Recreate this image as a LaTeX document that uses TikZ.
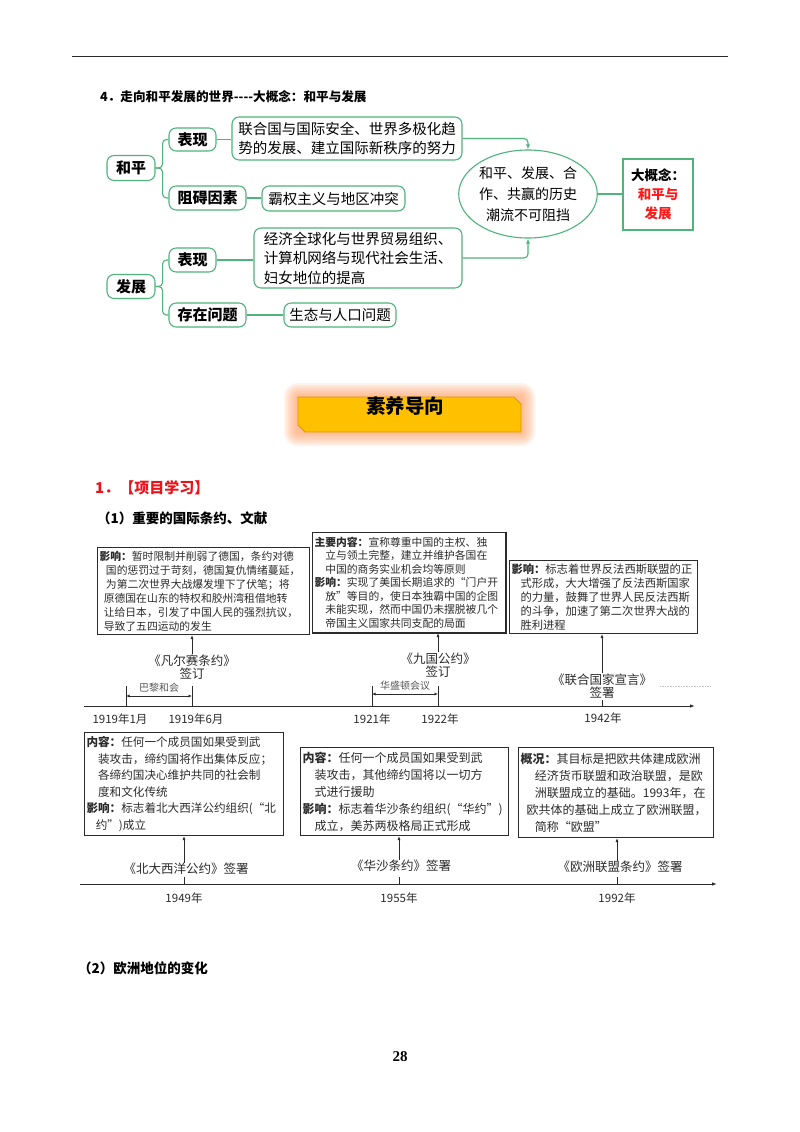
\documentclass[tikz,border=0pt]{standalone}
\usepackage{fontspec}
\setmainfont{Noto Sans CJK SC}
\newfontfamily\numfont{Liberation Serif}
\usetikzlibrary{arrows.meta,positioning,calc,shapes.geometric}
\definecolor{leafgreen}{HTML}{4FB37C}
\definecolor{concept}{HTML}{FF1A1A}
\definecolor{heading}{HTML}{E8141B}
\definecolor{gold}{HTML}{FFC000}
\definecolor{goldedge}{HTML}{D99A06}
\definecolor{glow}{HTML}{FF9A5A}
\definecolor{inkgrey}{HTML}{2B2B2B}
\newcommand{\lineind}{\hspace*{1em}}
\newcommand{\sizeto}[2]{\fontsize{#1}{#2}\selectfont}

\begin{document}
\begin{tikzpicture}[
  x=1pt,y=-1pt,
  every node/.style={inner sep=0pt,align=center},
  mapbox/.style={draw=leafgreen,line width=1.1pt,rounded corners=2.5mm,fill=white,font=\sizeto{15}{20}\bfseries,minimum height=24pt},
  leafbox/.style={draw=leafgreen,line width=1.1pt,rounded corners=2.5mm,fill=white,font=\sizeto{14.5}{19.5},align=left},
  branch/.style={draw=leafgreen,line width=1.1pt,rounded corners=4pt},
  toidea/.style={branch,-{Latex[length=5pt,width=4pt]}},
  tlbox/.style={draw=inkgrey,line width=1pt,align=left,inner xsep=2pt,anchor=north west,text=inkgrey},
  axisline/.style={draw=inkgrey,line width=0.9pt,-{Latex[length=5pt,width=3.5pt]}},
  tick/.style={draw=inkgrey,line width=0.8pt},
  up/.style={draw=inkgrey,line width=0.8pt,-{Latex[length=4pt,width=3pt]}},
  span/.style={draw=inkgrey,line width=0.7pt,{Latex[length=3.5pt,width=3pt]}-{Latex[length=3.5pt,width=3pt]}},
  spanlbl/.style={font=\sizeto{10}{11},text=inkgrey!80},
  evt/.style={font=\sizeto{12.5}{13.5},text=inkgrey},
  yr/.style={font=\sizeto{11.5}{13},text=inkgrey}
]
\useasboundingbox[fill=white] (0,0) rectangle (800,1132);
\draw[inkgrey,line width=0.9pt] (72,56) -- (728,56);
\node[anchor=west,font=\sizeto{12.6}{15}\bfseries] (title) at (100,97) {4．走向和平发展的世界-{}-{}-{}-大概念：和平与发展};

\node[mapbox,minimum width=48pt,minimum height=25pt] (heping) at (131,168) {和平};
\node[mapbox,minimum width=47pt,minimum height=23pt] (hpshow) at (192.5,139.5) {表现};
\node[mapbox,minimum width=77pt] (hpblock) at (207.5,198) {阻碍因素};
\node[leafbox,minimum width=230pt,minimum height=43pt] (hpfact) at (347,138.5) {联合国与国际安全、世界多极化趋\\势的发展、建立国际新秩序的努力};
\node[leafbox,minimum width=143pt,minimum height=25pt] (hpconf) at (333.5,198.5) {霸权主义与地区冲突};
\node[mapbox,minimum width=48pt,minimum height=24pt] (fazhan) at (131,286.5) {发展};
\node[mapbox,minimum width=47pt,minimum height=24pt] (fzshow) at (192.5,260) {表现};
\node[mapbox,minimum width=77pt] (fzprob) at (207.5,315) {存在问题};
\node[leafbox,minimum width=208pt,minimum height=60pt] (fzfact) at (358,258) {经济全球化与世界贸易组织、\\计算机网络与现代社会生活、\\妇女地位的提高};
\node[leafbox,minimum width=112pt,minimum height=24pt] (fzeco) at (340,315) {生态与人口问题};
\node[ellipse,draw=leafgreen,line width=1.1pt,minimum width=136pt,minimum height=88pt,font=\sizeto{14}{21}] (trend) at (528,194) {和平、发展、合\\作、共赢的历史\\潮流不可阻挡};
\node[draw=leafgreen,line width=1.1pt,minimum width=70pt,minimum height=71pt,font=\sizeto{13.5}{19}\bfseries] (idea) at (658,194.5) {大概念：\\\textcolor{concept}{和平与}\\\textcolor{concept}{发展}};

\draw[branch] (heping.east) -- ++(7,0) |- (hpshow.west);
\draw[branch] (heping.east) -- ++(7,0) |- (hpblock.west);
\draw[branch] (fazhan.east) -- ++(7,0) |- (fzshow.west);
\draw[branch] (fazhan.east) -- ++(7,0) |- (fzprob.west);
\draw[branch] (hpshow.east) -- (hpshow.east -| hpfact.west);
\draw[branch] (hpblock.east) -- (hpblock.east -| hpconf.west);
\draw[branch] (fzshow.east) -- (fzshow.east -| fzfact.west);
\draw[branch] (fzprob.east) -- (fzprob.east -| fzeco.west);
\draw[toidea] (hpfact.east) -| (trend.north);
\draw[toidea] (fzfact.east) -| (trend.south);
\draw[branch] (trend.east) -- (trend.east -| idea.west);

\foreach \g in {14,12,...,2}
  \fill[glow,opacity=0.12,rounded corners=\g pt] (298-\g,397-\g) rectangle (521+\g,432+\g);
\draw[goldedge,fill=gold,line width=0.8pt] (298,397) -- (514,397) -- (521,404) -- (521,432) -- (305,432) -- (298,425) -- cycle;
\node[font=\sizeto{19.5}{20}\bfseries] (guide) at (405,406) {素养导向};

\node[anchor=west,font=\sizeto{15}{17}\bfseries,text=heading] (proj) at (95,488) {1．【项目学习】};
\node[anchor=west,font=\sizeto{13.5}{15}\bfseries] (sec1) at (97,518) {（1）重要的国际条约、文献};

\node[tlbox,text width=208pt,minimum height=87pt,font=\sizeto{10.8}{14}] (vers) at (97,547) {\textbf{影响：}暂时限制并削弱了德国，条约对德\\\hspace*{0.6em}国的惩罚过于苛刻，德国复仇情绪蔓延，\\\hspace*{0.6em}为第二次世界大战爆发埋下了伏笔；将\\\hspace*{0.4em}原德国在山东的特权和胶州湾租借地转\\\hspace*{0.4em}让给日本，引发了中国人民的强烈抗议，\\\hspace*{0.4em}导致了五四运动的发生};
\node[tlbox,text width=189pt,minimum height=100pt,font=\sizeto{10.8}{13.5}] (nine) at (312,532) {\textbf{主要内容：}宣称尊重中国的主权、独\\\lineind 立与领土完整，建立并维护各国在\\\lineind 中国的商务实业机会均等原则\\\textbf{影响：}实现了美国长期追求的“门户开\\\lineind 放”等目的，使日本独霸中国的企图\\\lineind 未能实现，然而中国仍未摆脱被几个\\\lineind 帝国主义国家共同支配的局面};
\draw[inkgrey,line width=1.6pt] (nine.north east) -- (nine.south east) -- (nine.south west);
\node[tlbox,text width=184pt,minimum height=73pt,font=\sizeto{11.3}{14}] (unite) at (509,560) {\textbf{影响：}标志着世界反法西斯联盟的正\\\hspace*{0.8em}式形成，大大增强了反法西斯国家\\\hspace*{0.8em}的力量，鼓舞了世界人民反法西斯\\\hspace*{0.8em}的斗争，加速了第二次世界大战的\\\hspace*{0.8em}胜利进程};

\coordinate (axAa) at (84,706);
\coordinate (axAb) at (695,706);
\coordinate (tJan) at (126,706);
\coordinate (tJun) at (192,706);
\coordinate (tWa) at (372,706);
\coordinate (tWb) at (438,706);
\coordinate (tUn) at (602,706);
\draw[axisline] (axAa) -- (axAb);
\foreach \t in {tJan,tJun,tWa,tWb} \draw[tick] (\t) -- ++(0,-20);
\draw[tick] (tUn) -- ++(0,-6);
\draw[span] ($(tJan)+(0,-10)$) -- ($(tJun)+(0,-10)$);
\draw[span] ($(tWa)+(0,-12)$) -- ($(tWb)+(0,-12)$);
\node[spanlbl] (paris) at ($(tJan)!0.5!(tJun)+(0,-18)$) {巴黎和会};
\node[spanlbl] (wash) at ($(tWa)!0.5!(tWb)+(0,-20)$) {华盛顿会议};
\node[evt] (versl) at (192,667) {《凡尔赛条约》\\签订};
\node[evt] (ninel) at (438,665) {《九国公约》\\签订};
\node[evt] (unitel) at (602,686) {《联合国家宣言》\\签署};
\draw[up] (versl.north) -- (versl.north |- vers.south);
\draw[up] (ninel.north) -- (ninel.north |- nine.south);
\draw[up] (unitel.north) -- (unitel.north |- unite.south);
\draw[inkgrey!30,densely dotted,line width=0.6pt] ($(unitel.east)+(8,0)$) -- ++(50,0);
\node[yr] (yJan) at (120,719) {1919年1月};
\node[yr] (yJun) at (196,719) {1919年6月};
\node[yr] (yWa) at (372,719) {1921年};
\node[yr] (yWb) at (440,719) {1922年};
\node[yr] (yUn) at (603,718) {1942年};

\node[tlbox,text width=195pt,minimum height=103pt,font=\sizeto{11.6}{16.5}] (nato) at (84,732) {\textbf{内容：}任何一个成员国如果受到武\\\lineind 装攻击，缔约国将作出集体反应；\\\lineind 各缔约国决心维护共同的社会制\\\lineind 度和文化传统\\\textbf{影响：}标志着北大西洋公约组织(“北\\\hspace*{0.8em}约”)成立};
\node[tlbox,text width=204pt,minimum height=88pt,font=\sizeto{12}{17}] (wars) at (300,747) {\textbf{内容：}任何一个成员国如果受到武\\\lineind 装攻击，其他缔约国将以一切方\\\lineind 式进行援助\\\textbf{影响：}标志着华沙条约组织(“华约”)\\\lineind 成立，美苏两极格局正式形成};
\node[tlbox,text width=191pt,minimum height=90pt,font=\sizeto{12}{17}] (euro) at (518,747) {\textbf{概况：}其目标是把欧共体建成欧洲\\\hspace*{1.2em}经济货币联盟和政治联盟，是欧\\\hspace*{1.2em}洲联盟成立的基础。1993年，在\\\hspace*{0.5em}欧共体的基础上成立了欧洲联盟，\\\hspace*{1.2em}简称“欧盟”};

\coordinate (axBa) at (80,884);
\coordinate (axBb) at (717,884);
\coordinate (tNato) at (184,884);
\coordinate (tWars) at (399,884);
\coordinate (tEuro) at (617,884);
\draw[axisline] (axBa) -- (axBb);
\foreach \t in {tNato,tWars,tEuro} \draw[tick] (\t) -- ++(0,-7);
\node[evt] (natol) at (186,869) {《北大西洋公约》签署};
\node[evt] (warsl) at (401,866) {《华沙条约》签署};
\node[evt] (eurol) at (620,867) {《欧洲联盟条约》签署};
\draw[up] (natol.north -| tNato) -- (tNato |- nato.south);
\draw[up] (warsl.north -| tWars) -- (tWars |- wars.south);
\draw[up] (eurol.north -| tEuro) -- (tEuro |- euro.south);
\node[yr] (yNato) at (184,898) {1949年};
\node[yr] (yWars) at (399,898) {1955年};
\node[yr] (yEuro) at (617,898) {1992年};

\node[anchor=west,font=\sizeto{13.5}{15}\bfseries] (sec2) at (78,968) {（2）欧洲地位的变化};
\node[font=\numfont\sizeto{15}{17}\bfseries] (pnum) at (400,1057) {28};
\end{tikzpicture}
\end{document}
